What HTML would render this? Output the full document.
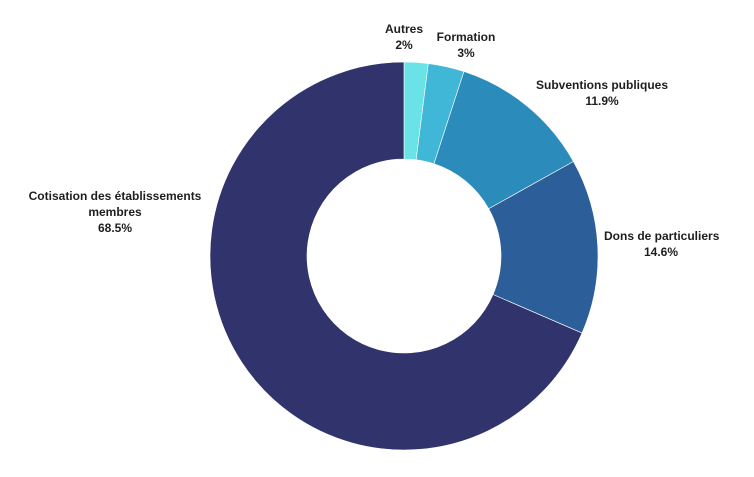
<!DOCTYPE html>
<html><head><meta charset="utf-8"><style>
html,body{margin:0;padding:0;background:#fff;width:754px;height:477px;overflow:hidden}
svg text{font-family:"Liberation Sans",sans-serif;font-weight:bold;font-size:12px;fill:#1e1e1e}
</style></head><body>
<svg id="chart" width="754" height="477"></svg>
<script>
const categories=["Autres","Formation","Subventions publiques","Dons de particuliers","Cotisation des établissements membres"];
const values=[2,3,11.9,14.6,68.5];
const valueLabels=["2%","3%","11.9%","14.6%","68.5%"];
const colors=["#6ae3e6","#41b7d7","#2b8bba","#2c5f9a","#30336c"];
const labelPos=[[404,33,"middle"],[466,41,"middle"],[602,89,"middle"],[604,240,"start"],[115,200,"middle"]];
const svg=document.getElementById('chart');
const NS="http://www.w3.org/2000/svg";
const cx=404,cy=256,R=194,r=97;
const total=values.reduce((a,b)=>a+b,0);
function pt(a,rad){return [cx+rad*Math.sin(a),cy-rad*Math.cos(a)];}
let acc=0;
values.forEach((v,i)=>{
  const a0=acc/total*2*Math.PI;acc+=v;const a1=acc/total*2*Math.PI;
  const big=(a1-a0)>Math.PI?1:0;
  const p0=pt(a0,R),p1=pt(a1,R),q1=pt(a1,r),q0=pt(a0,r);
  const p=document.createElementNS(NS,'path');
  p.setAttribute('d',`M${p0[0]},${p0[1]}A${R},${R} 0 ${big} 1 ${p1[0]},${p1[1]}L${q1[0]},${q1[1]}A${r},${r} 0 ${big} 0 ${q0[0]},${q0[1]}Z`);
  p.setAttribute('fill',colors[i]);
  p.setAttribute('stroke','#fff');p.setAttribute('stroke-width','0.6');
  
  
  svg.appendChild(p);
  const lp=labelPos[i];
  const t=document.createElementNS(NS,'text');
  t.setAttribute('text-anchor',lp[2]);
  
  
  let lines=[categories[i],valueLabels[i]];
  if(i===4) lines=["Cotisation des établissements","membres",valueLabels[i]];
  if(i===3) lines=["Dons de particuliers",valueLabels[i]];
  lines.forEach((s,k)=>{
    const ts=document.createElementNS(NS,'tspan');
    let x=lp[0];
    if(i===3&&k===1){x=lp[0]+57;ts.setAttribute('text-anchor','middle');}
    ts.setAttribute('x',x);ts.setAttribute('y',lp[1]+k*16);
    ts.textContent=s;t.appendChild(ts);
  });
  svg.appendChild(t);
});
</script>
</body></html>
